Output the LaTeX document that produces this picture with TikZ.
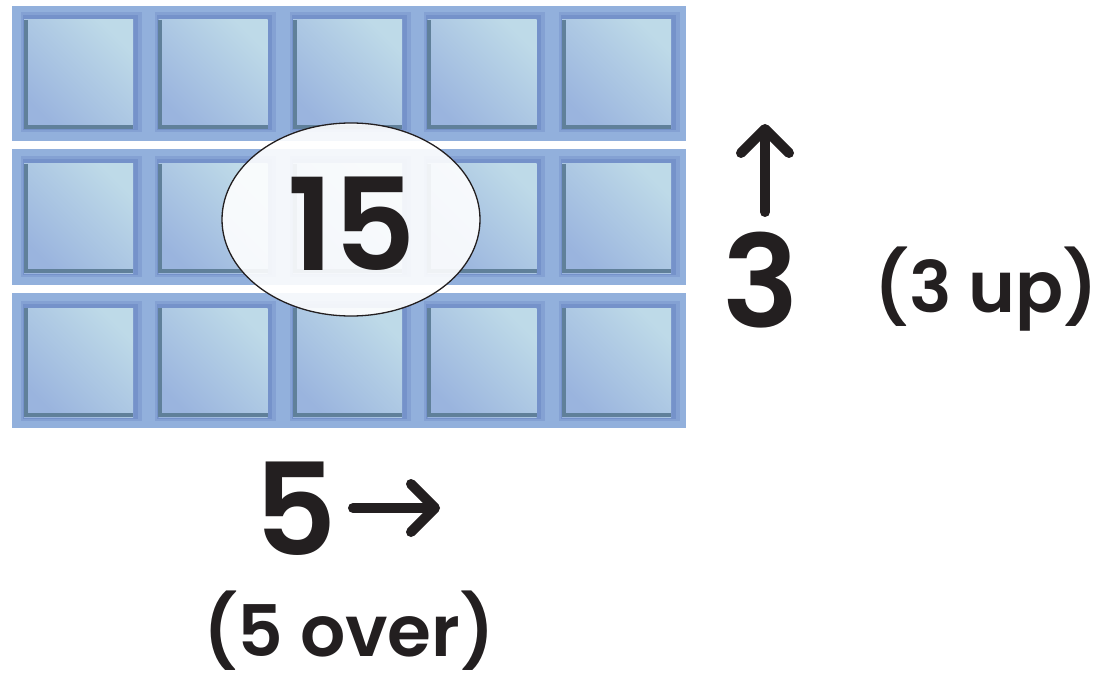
\documentclass[tikz,border=0pt]{standalone}
\usepackage{fontspec}
\setmainfont{Poppins}[BoldFont={Poppins SemiBold}]
\usetikzlibrary{arrows.meta,positioning,shapes.geometric}
\definecolor{bandblue}{RGB}{146,176,220}
\definecolor{tilelight}{RGB}{190,218,232}
\definecolor{tiledark}{RGB}{154,180,222}
\definecolor{tileedge}{RGB}{96,128,154}
\definecolor{tileglow}{RGB}{100,128,192}
\definecolor{inkblack}{RGB}{35,31,32}

\begin{document}
\begin{tikzpicture}[x=1pt, y=-1pt,
    band/.style={fill=bandblue, minimum width=674pt, minimum height=135pt, inner sep=0pt},
    tile/.style={minimum size=109pt, inner sep=0pt, top color=tilelight,
                 bottom color=tiledark, shading angle=-45},
    edgeline/.style={tileedge, line width=4pt},
    bignum/.style={anchor=base, inner sep=0pt, text=inkblack,
                   font=\fontsize{128}{128}\selectfont\bfseries},
    note/.style={anchor=base, inner sep=0pt, text=inkblack,
                 font=\fontsize{71}{71}\selectfont\bfseries},
    arr/.style={-{Straight Barb[length=24pt, width=48pt, round]}, line width=10pt,
                inkblack, line cap=round},
]
    \useasboundingbox (0,0) rectangle (1111,679);

    % rows of tiles
    \foreach \r in {0,1,2} {
        \node[band] (band-\r) at (349, 73.5+143.5*\r) {};
        \foreach \c in {0,...,4} {
            \fill[tileglow, opacity=.3] (78.5+134.5*\c-58, 74.5+144*\r-62)
                rectangle +(121, 120);
            \fill[tileglow, opacity=.45] (78.5+134.5*\c-56, 74.5+144*\r-59)
                rectangle +(115, 115);
            \node[tile] (tile-\r-\c) at (78.5+134.5*\c, 74.5+144*\r) {};
            \draw[edgeline] ([xshift=2pt]tile-\r-\c.north west)
                -- ([shift={(2pt,2pt)}]tile-\r-\c.south west)
                -- ([yshift=2pt]tile-\r-\c.south east);
        }
    }

    \node[ellipse, draw=inkblack, line width=1.3pt, fill=white, fill opacity=.9,
          minimum width=258pt, minimum height=193pt] (prod) at (351, 219.5) {};
    \node[bignum] (prodnum) at (352, 270) {15};

    % side labels
    \node[bignum] (upnum) at (761, 327) {3};
    \node[note] (upnote) at (986.5, 312) {(3 up)};
    \node[bignum] (overnum) at (296, 555) {5};
    \node[note] (overnote) at (349, 656) {(5 over)};

    \coordinate (upfrom) at (765, 212);
    \coordinate (upto) at (765, 124);
    \coordinate (overfrom) at (353, 508);
    \coordinate (overto) at (440, 508);
    \draw[arr] (upfrom) -- (upto);
    \draw[arr] (overfrom) -- (overto);
\end{tikzpicture}
\end{document}
